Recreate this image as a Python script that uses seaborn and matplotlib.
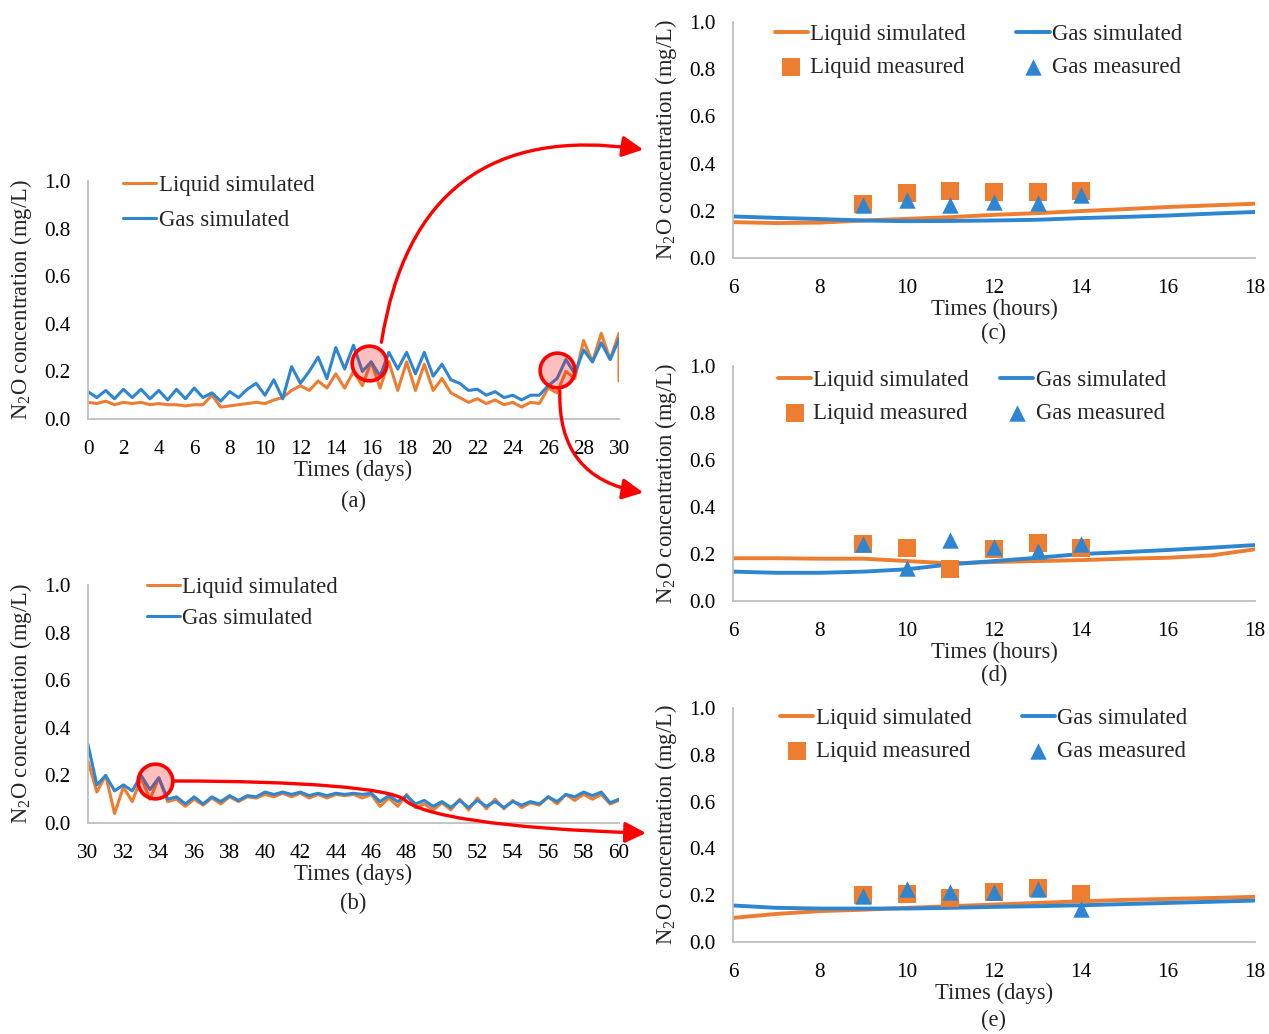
import numpy as np
import matplotlib
matplotlib.use("Agg")
import matplotlib.pyplot as plt
import seaborn as sns
from matplotlib.patches import FancyArrowPatch
from matplotlib.path import Path

# ── Style ─────────────────────────────────────────────────────────────────────
sns.set_theme(style="white")
plt.rcParams["font.family"] = ["Liberation Serif", "DejaVu Serif"]
plt.rcParams["mathtext.fontset"] = "custom"
plt.rcParams["mathtext.rm"] = "Liberation Serif"
plt.rcParams["mathtext.it"] = "Liberation Serif:italic"

ORANGE = "#ED7D31"
BLUE = "#2E86D0"
RED = "#FF0000"
GREY = "#BFBFBF"
TICK_FS = 15.3
LAB_FS = 16.3
LEG_FS = 16.5

# ── Data: (a) days 0-30, half-day steps ──────────────────────────────────────
days_a = np.arange(0, 30.01, 0.5)
liq_a = [0.070, 0.065, 0.075, 0.060, 0.070, 0.065, 0.070, 0.060, 0.065, 0.060,
         0.060, 0.055, 0.060, 0.060, 0.100, 0.050, 0.055, 0.060, 0.065, 0.070,
         0.065, 0.080, 0.090, 0.120, 0.140, 0.120, 0.160, 0.130, 0.190, 0.130,
         0.200, 0.140, 0.240, 0.130, 0.240, 0.120, 0.240, 0.120, 0.230, 0.120,
         0.170, 0.110, 0.090, 0.070, 0.085, 0.065, 0.080, 0.060, 0.070, 0.050,
         0.070, 0.065, 0.130, 0.110, 0.200, 0.170, 0.330, 0.240, 0.360, 0.250,
         0.360]
liq_a_end = 0.16   # sharp drop at the last time step
gas_a = [0.115, 0.090, 0.120, 0.085, 0.125, 0.090, 0.125, 0.085, 0.120, 0.080,
         0.125, 0.085, 0.130, 0.090, 0.110, 0.075, 0.115, 0.090, 0.125, 0.150,
         0.100, 0.165, 0.085, 0.220, 0.150, 0.200, 0.260, 0.170, 0.300, 0.210,
         0.310, 0.200, 0.240, 0.180, 0.280, 0.210, 0.280, 0.190, 0.280, 0.180,
         0.230, 0.165, 0.150, 0.120, 0.125, 0.100, 0.115, 0.090, 0.100, 0.080,
         0.100, 0.100, 0.140, 0.170, 0.250, 0.190, 0.290, 0.240, 0.320, 0.250,
         0.335]

# ── Data: (b) days 30-60 ─────────────────────────────────────────────────────
days_b = np.arange(30, 60.01, 0.5)
liq_b = [0.260, 0.130, 0.200, 0.040, 0.150, 0.090, 0.190, 0.100, 0.190, 0.090,
         0.100, 0.070, 0.100, 0.075, 0.105, 0.080, 0.110, 0.090, 0.110, 0.105,
         0.120, 0.110, 0.125, 0.110, 0.125, 0.105, 0.120, 0.105, 0.120, 0.115,
         0.120, 0.105, 0.120, 0.070, 0.105, 0.070, 0.120, 0.065, 0.080, 0.055,
         0.085, 0.055, 0.100, 0.055, 0.105, 0.060, 0.100, 0.060, 0.095, 0.065,
         0.085, 0.075, 0.110, 0.080, 0.120, 0.095, 0.120, 0.100, 0.120, 0.080,
         0.095]
gas_b = [0.330, 0.160, 0.200, 0.135, 0.160, 0.135, 0.200, 0.140, 0.190, 0.100,
         0.110, 0.080, 0.110, 0.080, 0.110, 0.090, 0.115, 0.095, 0.115, 0.110,
         0.130, 0.120, 0.130, 0.120, 0.130, 0.115, 0.125, 0.115, 0.125, 0.120,
         0.125, 0.120, 0.125, 0.090, 0.115, 0.090, 0.115, 0.080, 0.095, 0.070,
         0.090, 0.065, 0.095, 0.065, 0.095, 0.070, 0.090, 0.065, 0.090, 0.075,
         0.090, 0.080, 0.110, 0.090, 0.120, 0.110, 0.130, 0.115, 0.130, 0.085,
         0.100]

# ── Data: (c)-(e) hourly zoom-ins ────────────────────────────────────────────
hours = np.arange(6, 19)
meas_hours = [9, 10, 11, 12, 13, 14]

liq_sim_c = [0.152, 0.148, 0.150, 0.159, 0.166, 0.173, 0.183, 0.190, 0.199,
             0.207, 0.216, 0.223, 0.230]
gas_sim_c = [0.176, 0.170, 0.165, 0.159, 0.156, 0.157, 0.159, 0.162, 0.169,
             0.174, 0.180, 0.188, 0.195]
liq_meas_c = [0.227, 0.276, 0.284, 0.280, 0.280, 0.283]
gas_meas_c = [0.223, 0.244, 0.223, 0.237, 0.234, 0.268]

liq_sim_d = [0.182, 0.182, 0.180, 0.180, 0.170, 0.160, 0.166, 0.170, 0.174,
             0.180, 0.184, 0.194, 0.220]
gas_sim_d = [0.125, 0.120, 0.120, 0.125, 0.135, 0.156, 0.170, 0.184, 0.200,
             0.208, 0.217, 0.227, 0.238]
liq_meas_d = [0.241, 0.224, 0.135, 0.223, 0.245, 0.224]
gas_meas_d = [0.241, 0.142, 0.260, 0.230, 0.213, 0.241]

liq_sim_e = [0.103, 0.120, 0.132, 0.138, 0.146, 0.153, 0.160, 0.167, 0.174,
             0.180, 0.184, 0.188, 0.193]
gas_sim_e = [0.156, 0.146, 0.143, 0.143, 0.143, 0.146, 0.150, 0.153, 0.157,
             0.162, 0.167, 0.172, 0.177]
liq_meas_e = [0.200, 0.207, 0.188, 0.212, 0.231, 0.207]
gas_meas_e = [0.195, 0.228, 0.212, 0.212, 0.227, 0.139]

# highlighted regions (data coords)
circle_a = [(15.9, 0.235), (26.5, 0.205)]
circle_b = [(33.8, 0.176)]

YLABEL = "N$_2$O concentration (mg/L)"
W, H = 1269, 1034

fig = plt.figure(figsize=(W / 100, H / 100), dpi=100)


def px_axes(x0, x1, y_top, y_bot):
    return fig.add_axes([x0 / W, 1 - y_bot / H, (x1 - x0) / W, (y_bot - y_top) / H])


def style_axes(ax, xlim, xticks, xlabel, tag, tag_y):
    ax.set_xlim(*xlim)
    ax.set_ylim(0, 1.0)
    ax.set_xticks(xticks)
    ax.set_yticks(np.arange(0, 1.01, 0.2))
    ax.yaxis.set_major_formatter(matplotlib.ticker.FormatStrFormatter("%.1f"))
    ax.tick_params(axis="both", length=0, labelsize=TICK_FS, colors="black")
    ax.tick_params(axis="x", pad=15)
    ax.tick_params(axis="y", pad=12.5)
    for s in ["top", "right"]:
        ax.spines[s].set_visible(False)
    for s in ["left", "bottom"]:
        ax.spines[s].set_color(GREY)
        ax.spines[s].set_linewidth(1.3)
    ax.set_xlabel(xlabel, fontsize=LAB_FS, labelpad=1)
    ax.set_ylabel(YLABEL, fontsize=LAB_FS, labelpad=7.5)
    ax.text(0.5, tag_y, tag, transform=ax.transAxes, ha="center", va="center",
            fontsize=LAB_FS)


def highlight(ax, pts):
    for x, y in pts:
        ax.plot([x], [y], marker="o", markersize=25, mfc=(1, 0, 0, 0.25),
                mec=RED, mew=2.6, zorder=5)


# ── (a) ───────────────────────────────────────────────────────────────────────
ax_a = px_axes(88, 619, 181, 419)
sns.lineplot(x=np.append(days_a, 30.0), y=np.append(liq_a, liq_a_end), ax=ax_a,
             color=ORANGE, lw=2.2, sort=False, estimator=None, label="Liquid simulated")
sns.lineplot(x=days_a, y=gas_a, ax=ax_a, color=BLUE, lw=2.2, sort=False,
             estimator=None, label="Gas simulated")
style_axes(ax_a, (0, 30), np.arange(0, 31, 2), "Times (days)", "(a)", -0.345)
ax_a.legend(loc="upper left", bbox_to_anchor=(0.066, 1.024), frameon=False,
            fontsize=LEG_FS, handlelength=1.45, handletextpad=0.1,
            labelspacing=0.6, borderpad=0, borderaxespad=0)
highlight(ax_a, circle_a)

# ── (b) ───────────────────────────────────────────────────────────────────────
ax_b = px_axes(88, 619, 585, 823)
sns.lineplot(x=days_b, y=liq_b, ax=ax_b, color=ORANGE, lw=2.2, sort=False,
             estimator=None, label="Liquid simulated")
sns.lineplot(x=days_b, y=gas_b, ax=ax_b, color=BLUE, lw=2.2, sort=False,
             estimator=None, label="Gas simulated")
style_axes(ax_b, (30, 60), np.arange(30, 61, 2), "Times (days)", "(b)", -0.34)
ax_b.legend(loc="upper left", bbox_to_anchor=(0.111, 1.033), frameon=False,
            fontsize=LEG_FS, handlelength=1.45, handletextpad=0.1,
            labelspacing=0.42, borderpad=0, borderaxespad=0)
highlight(ax_b, circle_b)


# ── (c)-(e) ───────────────────────────────────────────────────────────────────
def zoom_panel(y_top, y_bot, liq_sim, gas_sim, liq_meas, gas_meas, xlabel, tag,
               tag_y, leg_x, leg_y, colsp):
    ax = px_axes(733, 1255, y_top, y_bot)
    sns.lineplot(x=hours, y=liq_sim, ax=ax, color=ORANGE, lw=2.8,
                 label="Liquid simulated")
    sns.lineplot(x=hours, y=gas_sim, ax=ax, color=BLUE, lw=2.8,
                 label="Gas simulated")
    sns.scatterplot(x=meas_hours, y=liq_meas, ax=ax, color=ORANGE, marker="s",
                    s=150, linewidth=0, zorder=3, label="Liquid measured")
    sns.scatterplot(x=meas_hours, y=gas_meas, ax=ax, color=BLUE, marker="^",
                    s=140, linewidth=0, zorder=4, label="Gas measured")
    style_axes(ax, (6, 18), np.arange(6, 19, 2), xlabel, tag, tag_y)
    h, l = ax.get_legend_handles_labels()
    order = ["Liquid simulated", "Liquid measured", "Gas simulated", "Gas measured"]
    hh = [h[l.index(o)] for o in order]
    ax.legend(hh, order, ncol=2, loc="upper left", bbox_to_anchor=(leg_x, leg_y),
              frameon=False, fontsize=LEG_FS, handlelength=1.45,
              handletextpad=0.1, labelspacing=0.52, columnspacing=colsp,
              borderpad=0, borderaxespad=0)
    return ax


ax_c = zoom_panel(22, 258, liq_sim_c, gas_sim_c, liq_meas_c, gas_meas_c,
                  "Times (hours)", "(c)", -0.32, 0.080, 0.993, 2.2)
ax_d = zoom_panel(366, 601, liq_sim_d, gas_sim_d, liq_meas_d, gas_meas_d,
                  "Times (hours)", "(d)", -0.318, 0.086, 0.983, 1.35)
ax_e = zoom_panel(708, 942, liq_sim_e, gas_sim_e, liq_meas_e, gas_meas_e,
                  "Times (days)", "(e)", -0.335, 0.090, 1.002, 2.2)


# ── Connecting arrows (figure pixel coords) ──────────────────────────────────
def f(x, y):
    return (x / W, 1 - y / H)


arrow_kw = dict(arrowstyle="-|>,head_length=0.7,head_width=0.35", color=RED,
                lw=2.4, mutation_scale=18, transform=fig.transFigure, zorder=20)

fig.add_artist(FancyArrowPatch(f(381, 345), f(646, 150),
                               connectionstyle="arc3,rad=-0.5", **arrow_kw))
fig.add_artist(FancyArrowPatch(f(560, 388), f(646, 493),
                               connectionstyle="arc3,rad=0.45", **arrow_kw))

verts = [f(174, 781), f(300, 781), f(390, 788), f(405, 800),
         f(420, 815), f(500, 829), f(646, 833)]
codes = [Path.MOVETO] + [Path.CURVE4] * 6
fig.add_artist(FancyArrowPatch(path=Path(verts, codes), **arrow_kw))

fig.savefig("out.png", dpi=100)
